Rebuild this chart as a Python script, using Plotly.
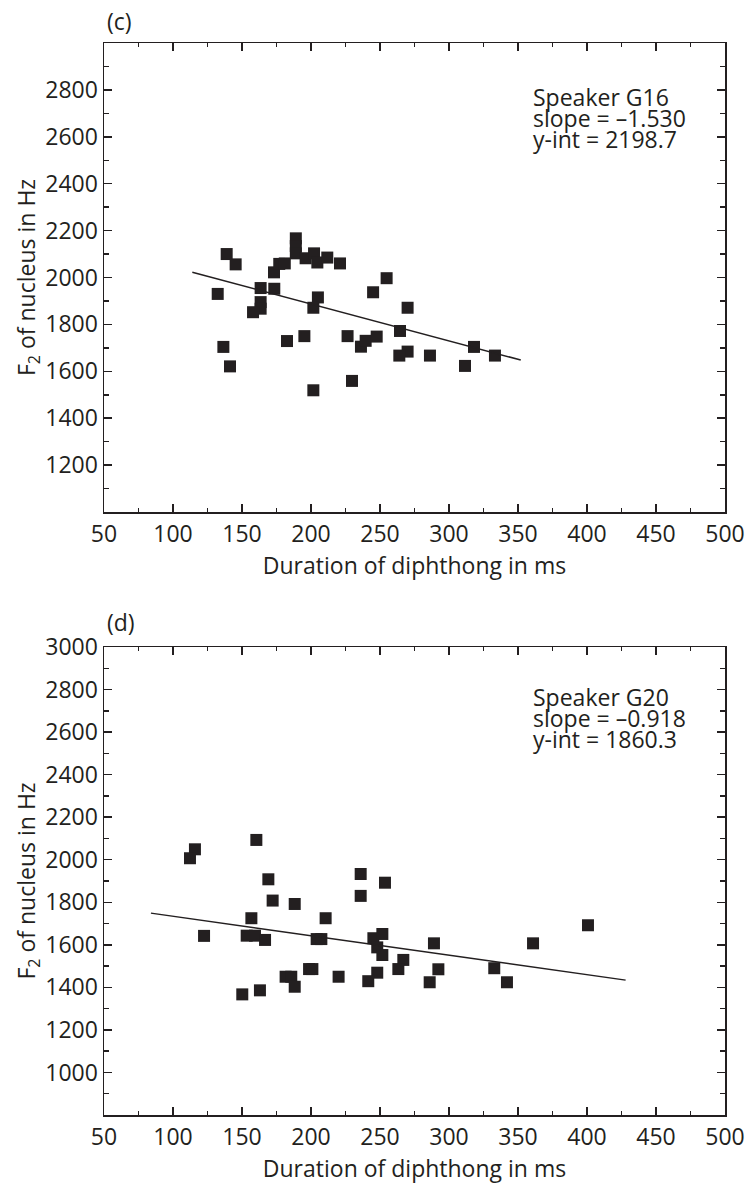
import plotly.graph_objects as go

# ---------------- data ----------------
# Panel (c): Speaker G16
c_dur = [138.9, 145.4, 132.4, 136.5, 141.3, 163.5, 163.5, 163.5, 158.0, 173.4,
         173.2, 177.0, 181.0, 189.0, 189.0, 189.0, 196.1, 202.2, 204.6, 211.8,
         221.0, 205.0, 201.7, 182.6, 195.2, 201.7, 226.5, 229.7, 245.0, 236.2,
         239.6, 247.6, 254.8, 270.0, 264.5, 270.0, 264.0, 286.2, 311.6, 318.1,
         333.3]
c_f2 = [2100, 2056, 1930, 1704, 1621, 1955, 1895, 1867, 1852, 1952,
        2022, 2058, 2060, 2167, 2134, 2103, 2082, 2103, 2064, 2085,
        2060, 1915, 1871, 1729, 1750, 1519, 1750, 1559, 1937, 1705,
        1730, 1748, 1997, 1871, 1772, 1684, 1667, 1667, 1623, 1704,
        1667]
c_fit_x = [114, 352]
c_fit_y = [2022, 1648]
c_text = ["Speaker G16", "slope = \u20131.530", "y-int = 2198.7"]

# Panel (d): Speaker G20
d_dur = [115.9, 112.3, 160.4, 169.1, 172.2, 188.2, 156.8, 122.5, 153.4, 159.4,
         166.7, 210.6, 204.1, 207.5, 236.0, 236.0, 253.6, 245.2, 251.7, 248.0,
         251.7, 198.6, 201.0, 181.6, 185.7, 188.2, 220.0, 248.0, 241.5, 163.0,
         150.2, 400.7, 360.9, 289.1, 266.9, 263.3, 292.3, 286.0, 332.8, 342.0]
d_f2 = [2049, 2007, 2093, 1908, 1808, 1792, 1725, 1642, 1643, 1643,
        1623, 1725, 1627, 1627, 1933, 1830, 1892, 1631, 1651, 1588,
        1552, 1486, 1486, 1450, 1450, 1403, 1450, 1469, 1429, 1386,
        1367, 1692, 1607, 1607, 1529, 1486, 1485, 1424, 1490, 1424]
d_fit_x = [84, 428]
d_fit_y = [1749, 1434]
d_text = ["Speaker G20", "slope = \u20130.918", "y-int = 1860.3"]

x_ticks = [50, 100, 150, 200, 250, 300, 350, 400, 450, 500]
c_yticks = [1200, 1400, 1600, 1800, 2000, 2200, 2400, 2600, 2800]
d_yticks = [1000, 1200, 1400, 1600, 1800, 2000, 2200, 2400, 2600, 2800, 3000]

# ---------------- figure ----------------
W, H = 749, 1190
INK = "#231f20"
FONT = "Open Sans"
FS = 23


def fx(p):
    return p / W


def fy(p):
    return 1 - p / H


fig = go.Figure()

fig.add_trace(go.Scatter(x=c_dur, y=c_f2, mode="markers", xaxis="x", yaxis="y",
                         marker=dict(symbol="square", size=12, color=INK),
                         showlegend=False, hoverinfo="skip"))
fig.add_trace(go.Scatter(x=c_fit_x, y=c_fit_y, mode="lines", xaxis="x", yaxis="y",
                         line=dict(color=INK, width=1.5), showlegend=False,
                         hoverinfo="skip"))
fig.add_trace(go.Scatter(x=d_dur, y=d_f2, mode="markers", xaxis="x2", yaxis="y2",
                         marker=dict(symbol="square", size=12, color=INK),
                         showlegend=False, hoverinfo="skip"))
fig.add_trace(go.Scatter(x=d_fit_x, y=d_fit_y, mode="lines", xaxis="x2", yaxis="y2",
                         line=dict(color=INK, width=1.5), showlegend=False,
                         hoverinfo="skip"))

common_axis = dict(
    showline=True, linecolor=INK, linewidth=1.5, mirror="ticks",
    ticks="inside", ticklen=8, tickwidth=1.5, tickcolor=INK,
    showgrid=False, zeroline=False, automargin=False,
    tickfont=dict(family=FONT, size=FS, color=INK),
)

xdom = [fx(104), fx(725)]

xaxis_common = dict(common_axis, range=[50, 500], tickvals=x_ticks,
                    ticktext=[str(v) for v in x_ticks], ticklabelstandoff=1,
                    minor=dict(dtick=25, tick0=50, ticks="inside", ticklen=4,
                               tickwidth=1.5, tickcolor=INK),
                    title=dict(text="Duration of diphthong in ms",
                               font=dict(family=FONT, size=FS, color=INK),
                               standoff=8))

ytitle = dict(text="F<sub>2</sub> of nucleus in Hz",
              font=dict(family=FONT, size=FS, color=INK), standoff=3)

fig.update_layout(
    width=W, height=H,
    margin=dict(l=0, r=0, t=0, b=0, pad=0, autoexpand=False),
    paper_bgcolor="white", plot_bgcolor="white",
    xaxis=dict(xaxis_common, domain=xdom, anchor="y"),
    yaxis=dict(common_axis, domain=[fy(512), fy(43)], anchor="x",
               range=[1000, 3000], tickvals=c_yticks,
               ticktext=[str(v) for v in c_yticks], ticklabelstandoff=0,
               minor=dict(dtick=100, tick0=1000, ticks="inside", ticklen=5,
                          tickwidth=1.5, tickcolor=INK),
               title=ytitle),
    xaxis2=dict(xaxis_common, domain=xdom, anchor="y2"),
    yaxis2=dict(common_axis, domain=[fy(1115), fy(647)], anchor="x2",
                range=[800, 3000], tickvals=d_yticks,
                ticktext=[str(v) for v in d_yticks], ticklabelstandoff=0,
                minor=dict(dtick=100, tick0=800, ticks="inside", ticklen=5,
                           tickwidth=1.5, tickcolor=INK),
                title=ytitle),
)

annos = []
# panel labels
annos.append(dict(text="(c)", xref="paper", yref="paper", x=fx(105), y=fy(21),
                  xanchor="left", yanchor="middle", showarrow=False,
                  font=dict(family=FONT, size=FS, color=INK)))
annos.append(dict(text="(d)", xref="paper", yref="paper", x=fx(105), y=fy(622),
                  xanchor="left", yanchor="middle", showarrow=False,
                  font=dict(family=FONT, size=FS, color=INK)))
# speaker stats
for i, t in enumerate(c_text):
    annos.append(dict(text=t, xref="paper", yref="paper", x=fx(531),
                      y=fy(97 + 21 * i), xanchor="left", yanchor="middle",
                      showarrow=False,
                      font=dict(family=FONT, size=FS, color=INK)))
for i, t in enumerate(d_text):
    annos.append(dict(text=t, xref="paper", yref="paper", x=fx(531),
                      y=fy(697 + 21 * i), xanchor="left", yanchor="middle",
                      showarrow=False,
                      font=dict(family=FONT, size=FS, color=INK)))
fig.update_layout(annotations=annos)

# remove the default page margin so the figure sits at the window's corner
fig.write_html("out.html",
               config={"displayModeBar": False, "staticPlot": True},
               post_script="document.body.style.margin='0';"
                           "document.body.style.overflow='hidden';")
